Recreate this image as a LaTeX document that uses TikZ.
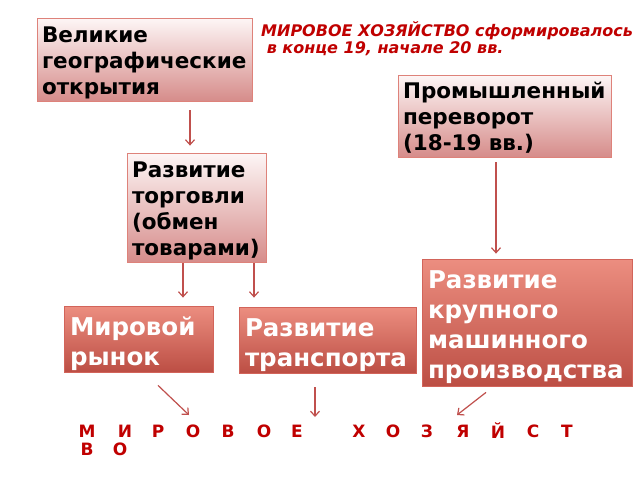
\documentclass[tikz,border=0pt]{standalone}
\usepackage{fontspec}
\setmainfont{DejaVu Sans}
\usetikzlibrary{arrows.meta,calc}
\definecolor{arrc}{RGB}{192,80,77}
\definecolor{lighttop}{RGB}{253,246,246}
\definecolor{lightbot}{RGB}{214,140,138}
\definecolor{lightbd}{RGB}{222,130,122}
\definecolor{darktop}{RGB}{236,142,128}
\definecolor{darkbot}{RGB}{188,78,68}
\definecolor{darkbd}{RGB}{210,100,90}
\definecolor{redtxt}{RGB}{192,0,0}
\newcommand{\bxtxt}[2]{\raisebox{-#1}[\height][\depth]{\begin{tabular}{@{}l@{}}#2\end{tabular}}}
\tikzset{
  lightbox/.style={draw=lightbd, line width=0.8pt, top color=lighttop, bottom color=lightbot,
    inner xsep=5pt, inner ysep=0pt, align=left, font=\bfseries\fontsize{21.5}{26}\selectfont, text=black},
  darkbox/.style={draw=darkbd, line width=0.8pt, top color=darktop, bottom color=darkbot,
    inner xsep=6pt, inner ysep=0pt, align=left, font=\bfseries\fontsize{24.5}{30}\selectfont, text=white},
  arr/.style={draw=arrc, line width=1.2pt, -{Straight Barb[length=5pt,width=9pt]}},
  letter/.style={text=redtxt, font=\bfseries\fontsize{17}{18}\selectfont, inner sep=0pt},
}
\begin{document}
\begin{tikzpicture}[x=1pt,y=-1pt]
\useasboundingbox[fill=white] (0,0) rectangle (640,480);
% boxes
\node[lightbox, minimum width=215pt, minimum height=83pt, text width=205pt] (b1) at (144.5,59.5)
  {\bxtxt{3.5pt}{Великие\\географические\\открытия}};
\node[lightbox, minimum width=213pt, minimum height=82pt, text width=203pt] (b2) at (504.5,116)
  {\bxtxt{3.5pt}{Промышленный\\переворот\\(18-19 вв.)}};
\node[lightbox, minimum width=139pt, minimum height=109pt, text width=129pt] (b3) at (196.5,207.5)
  {\bxtxt{3.5pt}{Развитие\\торговли\\(обмен\\товарами)}};
\node[darkbox, minimum width=149pt, minimum height=66pt, text width=137pt] (b4) at (138.5,339)
  {\bxtxt{5pt}{Мировой\\рынок}};
\node[darkbox, minimum width=177pt, minimum height=66pt, text width=165pt] (b5) at (327.5,340)
  {\bxtxt{5pt}{Развитие\\транспорта}};
\node[darkbox, minimum width=210pt, minimum height=127pt, text width=198pt] (b6) at (527,322.5)
  {\bxtxt{5pt}{Развитие\\крупного\\машинного\\производства}};
% title
\node[anchor=north west, inner sep=0pt, align=left, text=redtxt,
  font=\bfseries\itshape\fontsize{16}{17}\selectfont] (title) at (261,21)
  {МИРОВОЕ ХОЗЯЙСТВО сформировалось\\\ в конце 19, начале 20 вв.};
% bottom letters
\foreach \ch/\xx [count=\i] in {М/87,И/125,Р/158,О/193,В/228,О/264,Е/297,Х/359,О/393,З/427,Я/463,Й/498,С/533,Т/567}
  \node[letter] (l\i) at (\xx,431) {\ch};
\node[letter] (m1) at (87,449) {В};
\node[letter] (m2) at (120,449) {О};
% arrows
\draw[arr, shorten <=9pt, shorten >=7pt] ([xshift=45.5pt]b1.south) -- ([xshift=45.5pt]b1.south |- b3.north);
\draw[arr, shorten <=1pt, shorten >=8pt] ([xshift=-13.5pt]b3.south) -- ([xshift=-13.5pt]b3.south |- b4.north);
\draw[arr, shorten <=1pt, shorten >=9pt] ([xshift=57.5pt]b3.south) -- ([xshift=57.5pt]b3.south |- b5.north);
\draw[arr, shorten <=5pt, shorten >=5pt] ([xshift=-8.5pt]b2.south) -- ([xshift=-8.5pt]b2.south |- b6.north);
\coordinate (e1) at (189,415);
\coordinate (e2) at (315,417);
\coordinate (e3) at (457,415);
\draw[arr] ($(b4.south)+(19.5,13)$) -- (e1);
\draw[arr] ($(b5.south)+(-12.5,14)$) -- (e2);
\draw[arr] ($(b6.south)+(-41,6)$) -- (e3);
\end{tikzpicture}
\end{document}
